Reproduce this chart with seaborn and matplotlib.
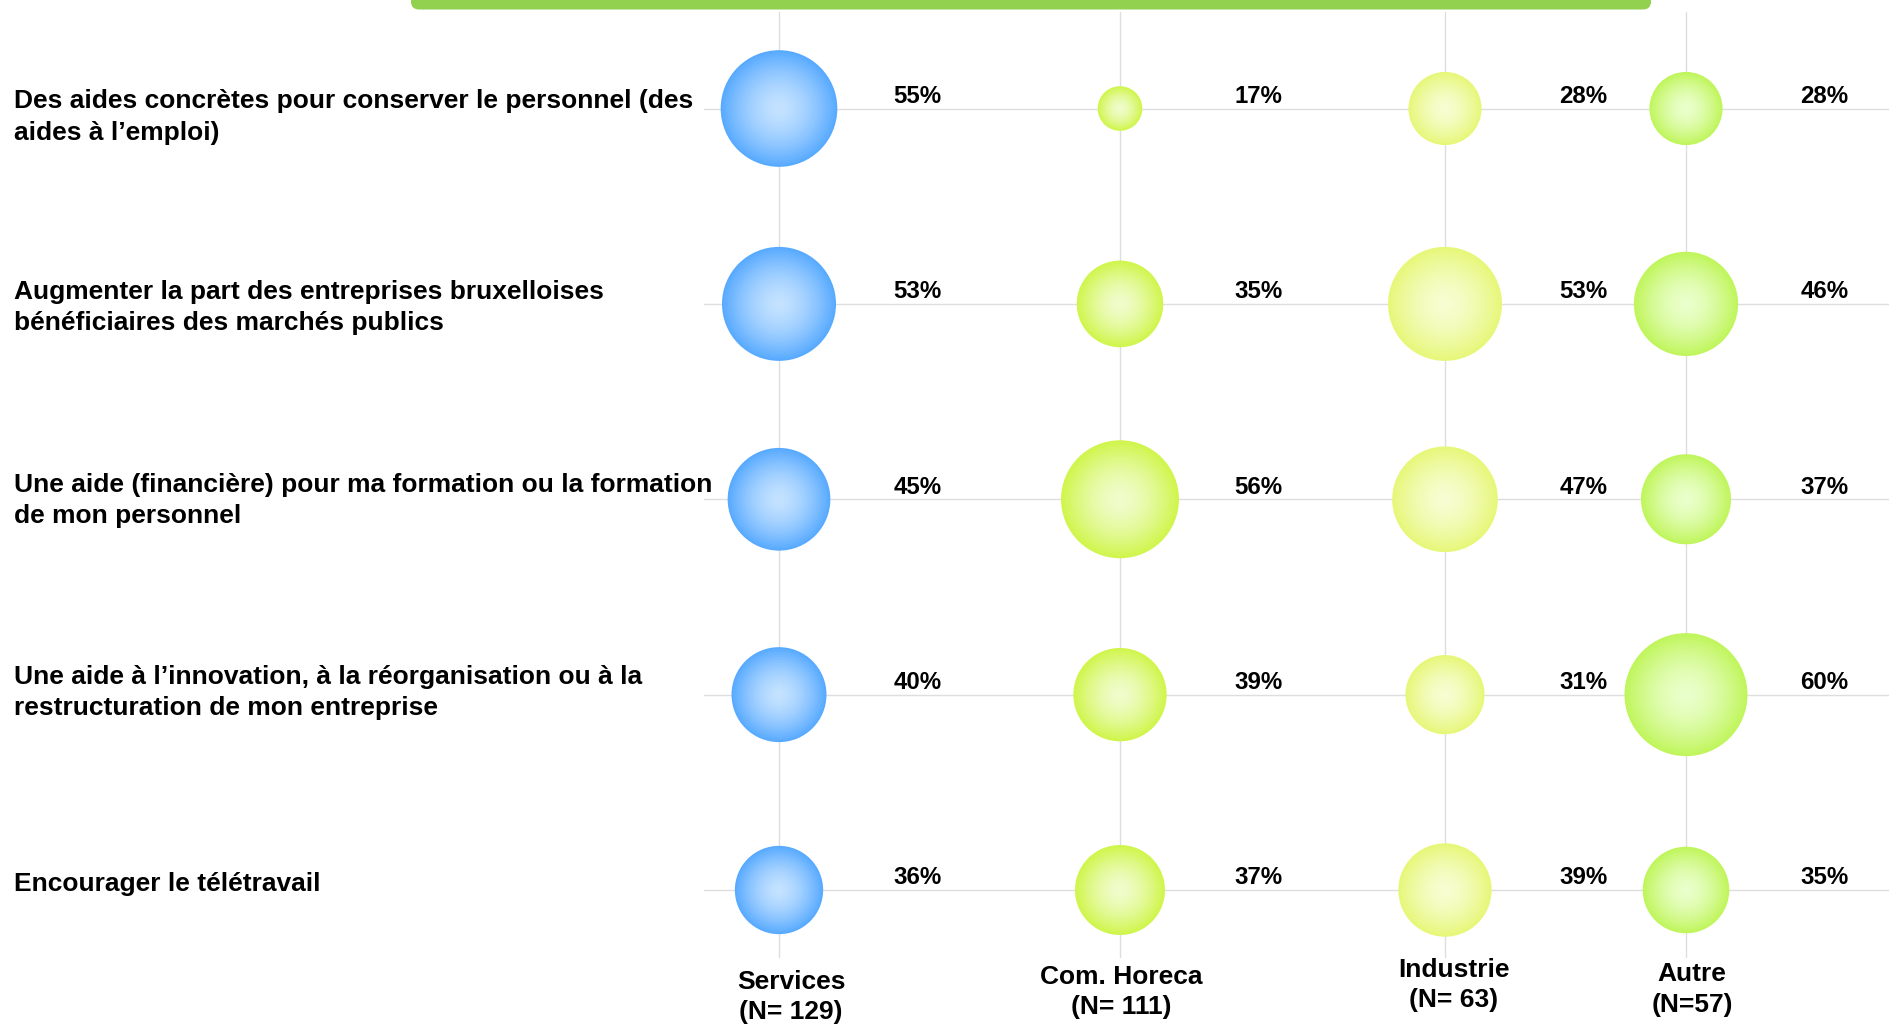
import numpy as np
import pandas as pd
import matplotlib
matplotlib.use("Agg")
import matplotlib.pyplot as plt
import matplotlib.colors as mcolors
from matplotlib.patches import FancyBboxPatch
from matplotlib.transforms import IdentityTransform, blended_transform_factory, offset_copy
import seaborn as sns

# ---------------- data ----------------
items = [
    "Des aides concrètes pour conserver le personnel (des\naides à l’emploi)",
    "Augmenter la part des entreprises bruxelloises\nbénéficiaires des marchés publics",
    "Une aide (financière) pour ma formation ou la formation\nde mon personnel",
    "Une aide à l’innovation, à la réorganisation ou à la\nrestructuration de mon entreprise",
    "Encourager le télétravail",
]
sectors = ["Services", "Com. Horeca", "Industrie", "Autre"]
sector_labels = ["Services\n(N= 129)", "Com. Horeca\n(N= 111)", "Industrie\n(N= 63)", "Autre\n(N=57)"]
services = [55, 53, 45, 40, 36]
horeca = [17, 35, 56, 39, 37]
industrie = [28, 53, 47, 31, 39]
autre = [28, 46, 37, 60, 35]

# ---------------- styling / layout ----------------
sns.set_theme(style="white")
plt.rcParams["font.family"] = ["Liberation Sans", "DejaVu Sans"]

edge_colors = {"Services": "#58aaff", "Com. Horeca": "#d0f54c",
               "Industrie": "#e6f779", "Autre": "#c0f55c"}
center_colors = {"Services": "#c4e2ff", "Com. Horeca": "#f0fccc",
                 "Industrie": "#f7fdd2", "Autre": "#eaffcc"}
col_pos = {"Services": 779, "Com. Horeca": 1120, "Industrie": 1445, "Autre": 1686}
label_dx = {"Services": 12, "Com. Horeca": 1, "Industrie": 9, "Autre": 6}
label_y = {"Services": 997, "Com. Horeca": 992, "Industrie": 985, "Autre": 989.5}
first_line_dy = [-7.2, -12, -14.5, -18, -6]   # px offset of first text line from row centre

W, H, DPI = 1890, 1026, 100
fig = plt.figure(figsize=(W / DPI, H / DPI), dpi=DPI)
ax = fig.add_axes([704 / W, 1 - 958 / H, 1 - 704 / W, (958 - 12) / H])

rows = []
for s, vals in zip(sectors, [services, horeca, industrie, autre]):
    for i, v in enumerate(vals):
        rows.append({"sector": s, "item": i, "value": v})
df = pd.DataFrame(rows)
df["x"] = df["sector"].map(col_pos)

vmin, vmax = df["value"].min(), df["value"].max()
smin, smax = 1031, 7846  # marker area (pt^2) for min / max value

# radial gradient made of concentric layers
n_layers = 30
for k in range(n_layers):
    f = 1 - k / n_layers          # diameter fraction
    t = f ** 1.6                  # colour position (1 = edge)
    pal = {}
    for s in sectors:
        e = np.array(mcolors.to_rgb(edge_colors[s]))
        c = np.array(mcolors.to_rgb(center_colors[s]))
        pal[s] = tuple(c + (e - c) * t)
    sns.scatterplot(data=df, x="x", y="item", hue="sector", palette=pal,
                    size="value", sizes=(smin * f * f, smax * f * f),
                    size_norm=(vmin, vmax), linewidth=0, legend=False,
                    ax=ax, zorder=3 + k)

# value labels
for _, r in df.iterrows():
    ax.annotate(f"{r['value']}%", (r["x"], r["item"]), xytext=(82.5, 8.8),
                textcoords="offset points", ha="left", va="center",
                fontsize=17.3, fontweight="bold", color="black", zorder=100)

ax.set_xlim(704, 1890)
ax.set_ylim(4.348, -0.494)
ax.set_xticks(list(col_pos.values()))
ax.set_yticks(range(len(items)))
ax.set_xticklabels([])
ax.set_yticklabels([])
ax.tick_params(length=0)
ax.grid(True, color="#dedede", linewidth=1)
ax.set_xlabel("")
ax.set_ylabel("")
for sp in ax.spines.values():
    sp.set_visible(False)

# item labels on the left
tr = blended_transform_factory(fig.transFigure, ax.transData)
line_pitch = 31.5
for i, lab in enumerate(items):
    n = lab.count("\n") + 1
    dy_px = first_line_dy[i] + (n - 1) * line_pitch / 2
    t = offset_copy(tr, fig=fig, x=0, y=-dy_px * 72 / DPI, units="points")
    ax.text(14 / W, i, lab, transform=t, ha="left", va="center",
            fontsize=19, fontweight="bold", color="black", linespacing=1.38)

# sector labels at the bottom
trb = blended_transform_factory(ax.transData, fig.transFigure)
for s, lab in zip(sectors, sector_labels):
    t = offset_copy(trb, fig=fig, x=label_dx[s] * 72 / DPI, y=0, units="points")
    ax.text(col_pos[s], 1 - label_y[s] / H, lab, transform=t, ha="center",
            va="center", fontsize=19, fontweight="bold", color="black",
            linespacing=1.33, clip_on=False)

# green title bar at the top (cut off)
bar = FancyBboxPatch((411, H - 9.5), 1240, 40,
                     boxstyle="round,pad=0,rounding_size=8",
                     transform=IdentityTransform(), facecolor="#92d050",
                     edgecolor="none")
fig.patches.append(bar)

fig.savefig("out.png", dpi=DPI, facecolor="white")
